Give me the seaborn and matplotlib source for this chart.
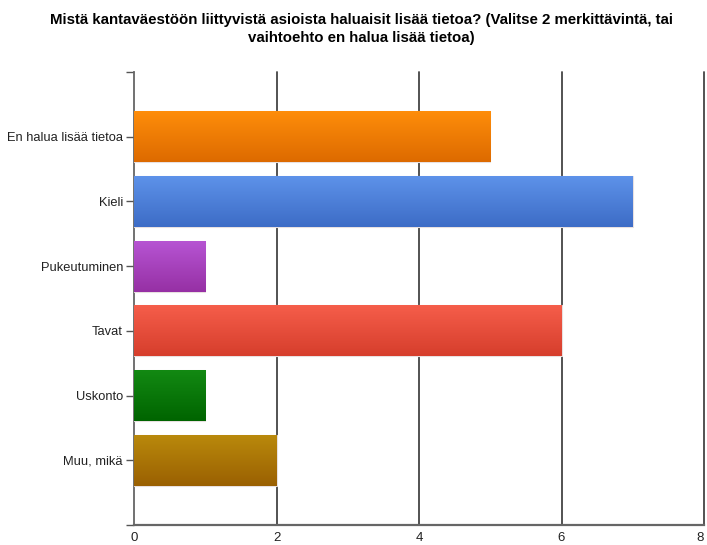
import numpy as np
import pandas as pd
import matplotlib
matplotlib.use("Agg")
import matplotlib.pyplot as plt
import matplotlib.colors as mcolors
import seaborn as sns

categories = ["En halua lisää tietoa", "Kieli", "Pukeutuminen", "Tavat", "Uskonto", "Muu, mikä"]
values = [5, 7, 1, 6, 1, 2]
top_colors = ["#FF8E0A", "#5E93EA", "#B755D4", "#F65E4B", "#138A13", "#BA8A0C"]
bottom_colors = ["#DD6A00", "#3D6CC6", "#9630A4", "#D63E2C", "#006400", "#9A6002"]
xticks = [0, 2, 4, 6, 8]
title_lines = ["Mistä kantaväestöön liittyvistä asioista haluaisit lisää tietoa? (Valitse 2 merkittävintä, tai",
               "vaihtoehto en halua lisää tietoa)"]

sns.set_style("white")
plt.rcParams["font.family"] = ["Liberation Sans", "DejaVu Sans"]

fig = plt.figure(figsize=(7.07, 5.45), dpi=100)
ax = fig.add_axes([134 / 707, 20 / 545, (704 - 134) / 707, (525 - 72) / 545])

df = pd.DataFrame({"cat": categories, "val": values})
sns.barplot(data=df, x="val", y="cat", hue="cat", palette=top_colors, legend=False,
            orient="h", width=0.79, ax=ax, zorder=3)

# gradient fill clipped to each bar
grad = np.linspace(0, 1, 256).reshape(-1, 1)
for patch, c1, c2 in zip(ax.patches, top_colors, bottom_colors):
    x0, y0 = patch.get_x(), patch.get_y()
    w, h = patch.get_width(), patch.get_height()
    cmap = mcolors.LinearSegmentedColormap.from_list("g", [c1, c2])
    im = ax.imshow(grad, cmap=cmap, aspect="auto", extent=[x0, x0 + w, y0 + h, y0],
                   origin="upper", zorder=3.5, interpolation="bilinear")
    im.set_clip_path(patch)
    patch.set_edgecolor("#E8E0E0")
    patch.set_linewidth(0.8)

ax.set_xlim(0, 8)
# 7 equal slots: bars centred on slot lines, empty half-slot above and below
ax.set_ylim(6.0, -1.0)

for x in xticks[1:]:
    ax.axvline(x, color="#444444", lw=1.3, zorder=2, clip_on=False)

ax.set_xticks(xticks)
ax.set_xticklabels([str(t) for t in xticks], fontsize=9.5, color="#222222")
ax.tick_params(axis="x", length=0, pad=5)
ax.get_xticklabels()[-1].set_ha("right")

yt = [-1.0] + list(range(len(categories))) + [6.0]
ax.set_yticks(yt)
ax.set_yticklabels([""] + categories + [""], fontsize=9.3, color="#222222")
ax.tick_params(axis="y", length=6, width=1, color="#555555", pad=2, left=True)

ax.set_xlabel("")
ax.set_ylabel("")
for s in ["top", "right"]:
    ax.spines[s].set_visible(False)
ax.spines["left"].set_color("#666666")
ax.spines["left"].set_linewidth(1.3)
ax.spines["bottom"].set_color("#666666")
ax.spines["bottom"].set_linewidth(1.6)

fig.text(361 / 707, 1 - 20 / 545, title_lines[0], ha="center", va="center", fontsize=10.8,
         fontweight="bold", color="#000000")
fig.text(361 / 707, 1 - 38 / 545, title_lines[1], ha="center", va="center", fontsize=10.8,
         fontweight="bold", color="#000000")

fig.savefig("out.png", dpi=100)
